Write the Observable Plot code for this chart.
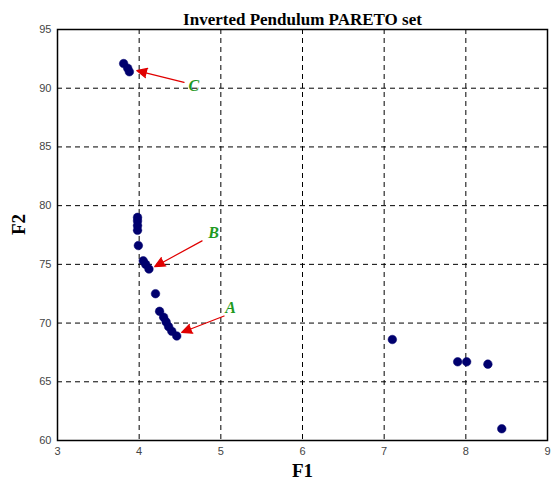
<!DOCTYPE html>
<html>
<head>
<meta charset="utf-8">
<script src="https://cdn.jsdelivr.net/npm/d3@7"></script>
<script src="https://cdn.jsdelivr.net/npm/@observablehq/plot@0.6"></script>
<style>
  html, body { margin: 0; padding: 0; background: #fff; }
</style>
</head>
<body>
<div id="chart"></div>
<script>
// Pareto set points (F1, F2)
const f1 = [3.81, 3.86, 3.88, 3.98, 3.98, 3.98, 3.98, 3.99, 4.05, 4.08, 4.12, 4.20, 4.25, 4.30, 4.33, 4.36, 4.40, 4.46, 7.10, 7.90, 8.01, 8.27, 8.44];
const f2 = [92.1, 91.7, 91.4, 79.0, 78.7, 78.3, 77.9, 76.6, 75.3, 75.0, 74.6, 72.5, 71.0, 70.5, 70.1, 69.7, 69.3, 68.9, 68.6, 66.7, 66.7, 66.5, 61.0];

// Annotations
const annLabels = ["A", "B", "C"];
const annLabelX = [5.12, 4.91, 4.67];
const annLabelY = [71.3, 77.7, 90.2];
const arrowFromX = [5.04, 4.77, 4.55];
const arrowFromY = [70.6, 77.0, 90.5];
const arrowToX = [4.52, 4.19, 3.97];
const arrowToY = [69.2, 74.8, 91.5];

const xTicks = [3, 4, 5, 6, 7, 8, 9];
const yTicks = [60, 65, 70, 75, 80, 85, 90, 95];
const xGrid = [4, 5, 6, 7, 8];
const yGrid = [65, 70, 75, 80, 85, 90];

const title = "Inverted Pendulum PARETO set";
const xLabel = "F1";
const yLabel = "F2";

const points = f1.map((x, i) => ({x, y: f2[i]}));
const anns = annLabels.map((t, i) => ({
  t, lx: annLabelX[i], ly: annLabelY[i],
  x1: arrowFromX[i], y1: arrowFromY[i], x2: arrowToX[i], y2: arrowToY[i]
}));

const chart = Plot.plot({
  width: 551,
  height: 486,
  marginLeft: 57,
  marginRight: 4,
  marginTop: 29,
  marginBottom: 46,
  style: {background: "#fff", fontFamily: "Arial, 'Liberation Sans', sans-serif"},
  x: {domain: [3, 9]},
  y: {domain: [60, 95]},
  marks: [
    Plot.gridX(xGrid, {stroke: "#000", strokeOpacity: 1, strokeDasharray: "5,4", strokeWidth: 1}),
    Plot.gridY(yGrid, {stroke: "#000", strokeOpacity: 1, strokeDasharray: "5,4", strokeWidth: 1}),
    Plot.frame({stroke: "#000", strokeWidth: 1.5}),
    Plot.axisX(xTicks, {tickSize: 0, tickPadding: 7, fontSize: 11, fill: "#444", label: null}),
    Plot.axisY(yTicks, {tickSize: 0, tickPadding: 6, fontSize: 11, fill: "#444", label: null}),
    Plot.dot(points, {x: "x", y: "y", r: 4.3, fill: "#00006e", stroke: "#00006e", strokeWidth: 0.5}),
    Plot.arrow(anns, {x1: "x1", y1: "y1", x2: "x2", y2: "y2", stroke: "#e00000", fill: "#e00000", strokeWidth: 1.2, headLength: 14, headAngle: 50}),
    Plot.text(anns, {x: "lx", y: "ly", text: "t", fill: "#1f9a1f", fontSize: 16, fontStyle: "italic", fontWeight: "bold", fontFamily: "'Liberation Serif', serif"}),
    Plot.text([title], {frameAnchor: "top", dy: -17, fontSize: 17, fontWeight: "bold", fontFamily: "'Liberation Serif', serif", fill: "#000"}),
    Plot.text([xLabel], {frameAnchor: "bottom", dy: 36, fontSize: 19, fontWeight: "bold", fontFamily: "'Liberation Serif', serif", fill: "#000"}),
    Plot.text([yLabel], {frameAnchor: "left", dx: -39, rotate: -90, fontSize: 19, fontWeight: "bold", fontFamily: "'Liberation Serif', serif", fill: "#000"})
  ]
});
document.getElementById("chart").appendChild(chart);
</script>
</body>
</html>
